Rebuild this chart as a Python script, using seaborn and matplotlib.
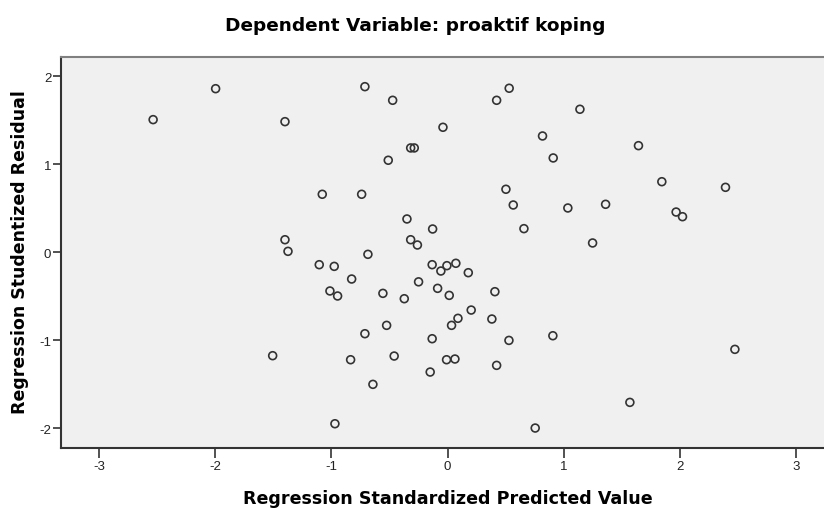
import numpy as np
import pandas as pd
import matplotlib
matplotlib.use("Agg")
import matplotlib.pyplot as plt
import seaborn as sns

# ---------------------------------------------------------
# DATA (read off the reference scatterplot)
# ---------------------------------------------------------
pred_x = [
    -2.535, -1.997, -1.400, -0.712, -0.473, -0.318, -0.287, -0.511,
    -1.079, -0.740, -0.350, -1.400, -1.374, -0.686, -0.318, -0.260,
    0.530, 0.422, 1.139, -0.040, 0.817, 0.909, 1.643, 0.502, 0.565,
    1.035, 1.360, 1.844, 2.392, 1.967, 2.022, 0.657, 1.248, -0.129,
    -1.105, -0.976, -0.826, -1.013, -0.947, -0.557, -0.373, -0.250,
    -0.712, -0.525, -1.506, -0.835, -0.460, -0.643, -0.970,
    -0.133, -0.058, -0.006, 0.071, 0.178, -0.086, 0.014, 0.407,
    0.203, 0.089, 0.034, 0.381, -0.133, 0.528, 0.906, -0.009, 0.063,
    -0.150, 0.422, 2.473, 1.569, 0.754,
]
resid_y = [
    1.509, 1.861, 1.486, 1.884, 1.729, 1.187, 1.187, 1.047,
    0.660, 0.660, 0.379, 0.143, 0.011, -0.023, 0.143, 0.083,
    1.866, 1.729, 1.627, 1.422, 1.323, 1.073, 1.213, 0.717, 0.538,
    0.504, 0.546, 0.803, 0.739, 0.458, 0.405, 0.269, 0.106, 0.265,
    -0.141, -0.160, -0.304, -0.440, -0.497, -0.467, -0.528, -0.336,
    -0.926, -0.831, -1.176, -1.222, -1.180, -1.502, -1.950,
    -0.141, -0.213, -0.152, -0.125, -0.232, -0.410, -0.490, -0.448,
    -0.657, -0.751, -0.831, -0.759, -0.983, -1.002, -0.949, -1.222, -1.214,
    -1.362, -1.286, -1.104, -1.707, -1.999,
]

x_ticks = [-3, -2, -1, 0, 1, 2, 3]
y_ticks = [-2, -1, 0, 1, 2]

df = pd.DataFrame({"pred": pred_x, "resid": resid_y})

# ---------------------------------------------------------
# PLOT
# ---------------------------------------------------------
sns.set_style("white")
plt.rcParams["font.family"] = ["Liberation Sans", "DejaVu Sans"]

W, H = 824, 510
fig = plt.figure(figsize=(W / 100, H / 100), dpi=100)
ax = fig.add_axes([61 / W, 1 - 449 / H, 1 - 61 / W, (449 - 58.3) / H])
ax.set_facecolor("#f0f0f0")

sns.scatterplot(data=df, x="pred", y="resid", ax=ax,
                marker="o", s=32, facecolor="none",
                edgecolor="#333333", linewidth=1.2, legend=False)

ax.set_xlim(-3.328, 3.24)
ax.set_ylim(-2.226, 2.218)
ax.set_xticks(x_ticks)
ax.set_yticks(y_ticks)
ax.set_xticklabels([str(t) for t in x_ticks])
ax.set_yticklabels([str(t) for t in y_ticks])
ax.set_xlabel("")
ax.set_ylabel("")

ax.tick_params(axis="x", direction="out", length=7, width=1.2,
               color="#333333", labelcolor="#222222", labelsize=9.5, pad=2)
ax.tick_params(axis="y", direction="out", length=6, width=1.2,
               color="#333333", labelcolor="#222222", labelsize=9.5, pad=1)
ax.xaxis.set_ticks_position("bottom")
ax.yaxis.set_ticks_position("left")

for side in ["left", "bottom"]:
    ax.spines[side].set_color("#333333")
    ax.spines[side].set_linewidth(1.5)
ax.spines["top"].set_color("#808080")
ax.spines["top"].set_linewidth(1.5)
ax.spines["right"].set_visible(False)

# axis titles and chart title placed in figure pixels
fig.text(448 / W, 1 - 499 / H, "Regression Standardized Predicted Value",
         ha="center", va="center", fontsize=12.6, fontweight="bold",
         family="DejaVu Sans", color="black")
fig.text(20 / W, 1 - 252 / H, "Regression Studentized Residual",
         ha="center", va="center", rotation=90, fontsize=12.5,
         fontweight="bold", family="DejaVu Sans", color="black")
fig.text(415 / W, 1 - 26 / H, "Dependent Variable: proaktif koping",
         ha="center", va="center", fontsize=13.3, fontweight="bold",
         family="DejaVu Sans", color="black")

fig.savefig("out.png", dpi=100)
plt.close(fig)
